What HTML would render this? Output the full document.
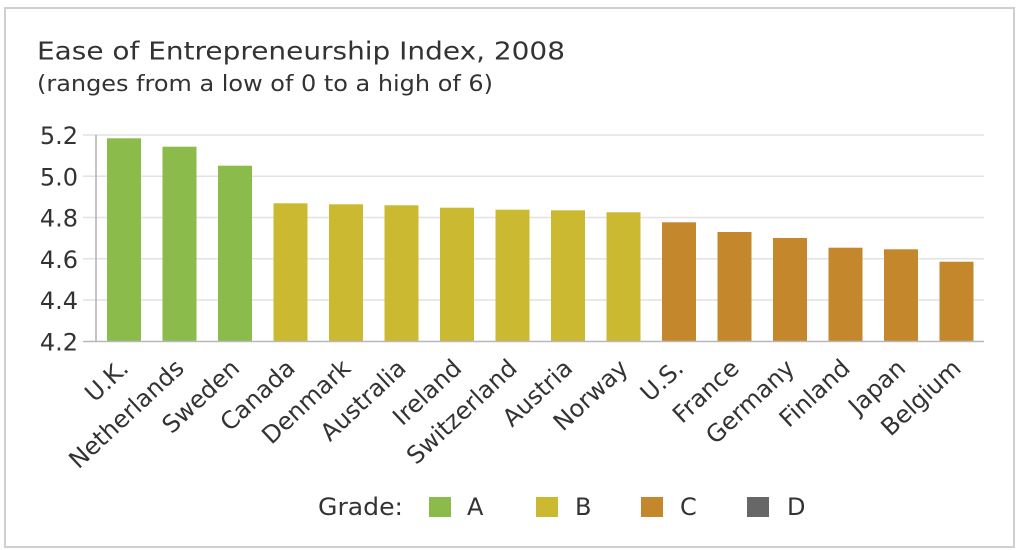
<!DOCTYPE html>
<html>
<head>
<meta charset="utf-8">
<style>
  html, body { margin:0; padding:0; background:#fff; }
  svg { display:block; }
  text { font-family: "DejaVu Sans", "Liberation Sans", sans-serif; fill:#333; }
</style>
</head>
<body>
<svg width="1024" height="550" viewBox="0 0 1024 550" xmlns="http://www.w3.org/2000/svg">
  <rect x="0" y="0" width="1024" height="550" fill="#fff"/>
  <rect x="5" y="8" width="1009" height="539" fill="none" stroke="#cfcfcf" stroke-width="2"/>

  <!-- Title -->
  <text x="37" y="59.5" font-size="25" textLength="528" lengthAdjust="spacingAndGlyphs">Ease of Entrepreneurship Index, 2008</text>
  <text x="37" y="91" font-size="22" textLength="456" lengthAdjust="spacingAndGlyphs">(ranges from a low of 0 to a high of 6)</text>

  <!-- Gridlines -->
  <g stroke="#e2e2e2" stroke-width="1.5">
    <line x1="83" y1="135" x2="984" y2="135"/>
    <line x1="83" y1="176.3" x2="984" y2="176.3"/>
    <line x1="83" y1="217.5" x2="984" y2="217.5"/>
    <line x1="83" y1="258.8" x2="984" y2="258.8"/>
    <line x1="83" y1="300" x2="984" y2="300"/>
  </g>

  <!-- Y tick labels -->
  <g font-size="24" text-anchor="end">
    <text x="78" y="144">5.2</text>
    <text x="78" y="185.3">5.0</text>
    <text x="78" y="226.5">4.8</text>
    <text x="78" y="267.8">4.6</text>
    <text x="78" y="309">4.4</text>
    <text x="78" y="350.5">4.2</text>
  </g>

  <!-- Bars -->
  <g>
    <rect x="107" y="138.3" width="34" height="203.2" fill="#8bbb4b"/>
    <rect x="162.5" y="146.7" width="34" height="194.8" fill="#8bbb4b"/>
    <rect x="218" y="165.7" width="34" height="175.8" fill="#8bbb4b"/>
    <rect x="273.5" y="203.3" width="34" height="138.2" fill="#cbb931"/>
    <rect x="329" y="204.3" width="34" height="137.2" fill="#cbb931"/>
    <rect x="384.5" y="205.3" width="34" height="136.2" fill="#cbb931"/>
    <rect x="440" y="207.7" width="34" height="133.8" fill="#cbb931"/>
    <rect x="495.5" y="209.7" width="34" height="131.8" fill="#cbb931"/>
    <rect x="551" y="210.3" width="34" height="131.2" fill="#cbb931"/>
    <rect x="606.5" y="212.3" width="34" height="129.2" fill="#cbb931"/>
    <rect x="662" y="222.3" width="34" height="119.2" fill="#c4872b"/>
    <rect x="717.5" y="232" width="34" height="109.5" fill="#c4872b"/>
    <rect x="773" y="238" width="34" height="103.5" fill="#c4872b"/>
    <rect x="828.5" y="247.7" width="34" height="93.8" fill="#c4872b"/>
    <rect x="884" y="249.3" width="34" height="92.2" fill="#c4872b"/>
    <rect x="939.5" y="261.7" width="34" height="79.8" fill="#c4872b"/>
  </g>

  <!-- Axes -->
  <line x1="96" y1="135" x2="96" y2="342" stroke="#b0b0b0" stroke-width="1.5"/>
  <line x1="83" y1="341.5" x2="984" y2="341.5" stroke="#b8b8b8" stroke-width="1.5"/>

  <!-- Category labels -->
  <g font-size="24" text-anchor="end">
    <text transform="translate(130,370) rotate(-43)">U.K.</text>
    <text transform="translate(185.5,370) rotate(-43)">Netherlands</text>
    <text transform="translate(241,370) rotate(-43)">Sweden</text>
    <text transform="translate(296.5,370) rotate(-43)">Canada</text>
    <text transform="translate(352,370) rotate(-43)">Denmark</text>
    <text transform="translate(407.5,370) rotate(-43)">Australia</text>
    <text transform="translate(463,370) rotate(-43)">Ireland</text>
    <text transform="translate(518.5,370) rotate(-43)">Switzerland</text>
    <text transform="translate(574,370) rotate(-43)">Austria</text>
    <text transform="translate(629.5,370) rotate(-43)">Norway</text>
    <text transform="translate(685,370) rotate(-43)">U.S.</text>
    <text transform="translate(740.5,370) rotate(-43)">France</text>
    <text transform="translate(796,370) rotate(-43)">Germany</text>
    <text transform="translate(851.5,370) rotate(-43)">Finland</text>
    <text transform="translate(907,370) rotate(-43)">Japan</text>
    <text transform="translate(962.5,370) rotate(-43)">Belgium</text>
  </g>

  <!-- Legend -->
  <g font-size="24">
    <text x="318" y="515" textLength="85" lengthAdjust="spacingAndGlyphs">Grade:</text>
    <rect x="429" y="497" width="22" height="20" fill="#8bbb4b"/>
    <text x="467" y="515">A</text>
    <rect x="536" y="497" width="22" height="20" fill="#cbb931"/>
    <text x="575" y="515">B</text>
    <rect x="641" y="497" width="22" height="20" fill="#c4872b"/>
    <text x="680" y="515">C</text>
    <rect x="747" y="497" width="22" height="20" fill="#676767"/>
    <text x="787" y="515">D</text>
  </g>
</svg>
</body>
</html>
